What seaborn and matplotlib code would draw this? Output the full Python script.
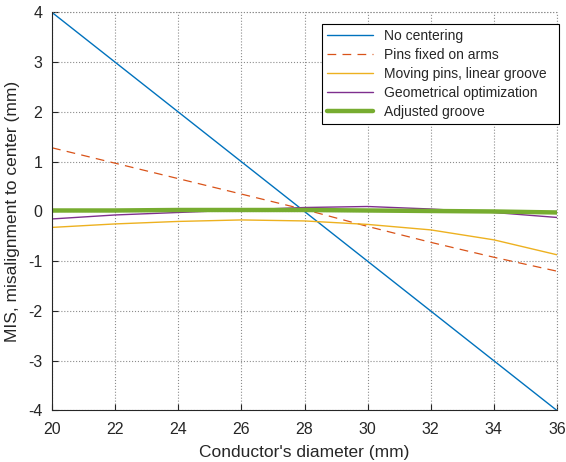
import numpy as np
import pandas as pd
import seaborn as sns
import matplotlib.pyplot as plt

# conductor diameter (mm)
diameter = [20, 22, 24, 26, 28, 30, 32, 34, 36]

# misalignment to center (mm) for each method
no_centering = [4.0, 3.0, 2.0, 1.0, 0.0, -1.0, -2.0, -3.0, -4.0]
pins_fixed = [1.28, 0.97, 0.66, 0.35, 0.04, -0.30, -0.62, -0.92, -1.20]
moving_pins = [-0.32, -0.25, -0.20, -0.17, -0.19, -0.26, -0.37, -0.57, -0.87]
geometrical = [-0.15, -0.07, -0.02, 0.03, 0.08, 0.10, 0.05, -0.02, -0.12]
adjusted = [0.02, 0.02, 0.03, 0.03, 0.03, 0.02, 0.01, 0.0, -0.02]

labels = ["No centering", "Pins fixed on arms", "Moving pins, linear groove",
          "Geometrical optimization", "Adjusted groove"]
series = [no_centering, pins_fixed, moving_pins, geometrical, adjusted]
colors = ["#0072BD", "#D95319", "#EDB120", "#7E2F8E", "#77AC30"]
styles = ["-", (0, (7, 5)), "-", "-", "-"]
widths = [1.0, 0.9, 1.0, 1.0, 3.2]

sns.set_style("ticks")
plt.rcParams["font.family"] = ["Liberation Sans", "DejaVu Sans"]
plt.rcParams["axes.unicode_minus"] = False

fig = plt.figure(figsize=(5.66, 4.62), dpi=100)
ax = fig.add_axes([0.092, 0.1115, 0.892, 0.8615])

for lab, vals, c, ls, lw in zip(labels, series, colors, styles, widths):
    df = pd.DataFrame({"d": diameter, "mis": vals})
    sns.lineplot(data=df, x="d", y="mis", ax=ax, color=c, linestyle=ls,
                 linewidth=lw, label=lab)

ax.set_xlim(20, 36)
ax.set_ylim(-4, 4)
ax.set_xticks(range(20, 37, 2))
ax.set_yticks(range(-4, 5, 1))
ax.tick_params(which="major", direction="in", length=4, labelsize=11.5,
               colors="#262626")
ax.tick_params(axis="x", pad=8)
ax.tick_params(axis="y", pad=7)
ax.grid(True, which="major", linestyle=":", color="#8c8c8c", linewidth=0.8)
ax.spines["top"].set_visible(False)
ax.spines["right"].set_visible(False)
for s in ["left", "bottom"]:
    ax.spines[s].set_color("#262626")
    ax.spines[s].set_linewidth(0.8)

# dotted border along the top and right like the reference
ax.axhline(4, color="#8c8c8c", linestyle=":", linewidth=0.8, clip_on=False)
ax.axvline(36, color="#8c8c8c", linestyle=":", linewidth=0.8, clip_on=False)

ax.set_xlabel("Conductor's diameter (mm)", fontsize=12.5, labelpad=6)
ax.set_ylabel("MIS, misalignment to center (mm)", fontsize=12.5, labelpad=6)

leg = ax.legend(loc="upper left", bbox_to_anchor=(0.534, 0.5, 0.470, 0.472),
                mode="expand", borderaxespad=0, fontsize=10,
                frameon=True, fancybox=False, handlelength=3.3,
                borderpad=0.4, labelspacing=0.35, framealpha=1)
leg.get_frame().set_edgecolor("black")
leg.get_frame().set_linewidth(0.8)

fig.savefig("out.png", dpi=100)
